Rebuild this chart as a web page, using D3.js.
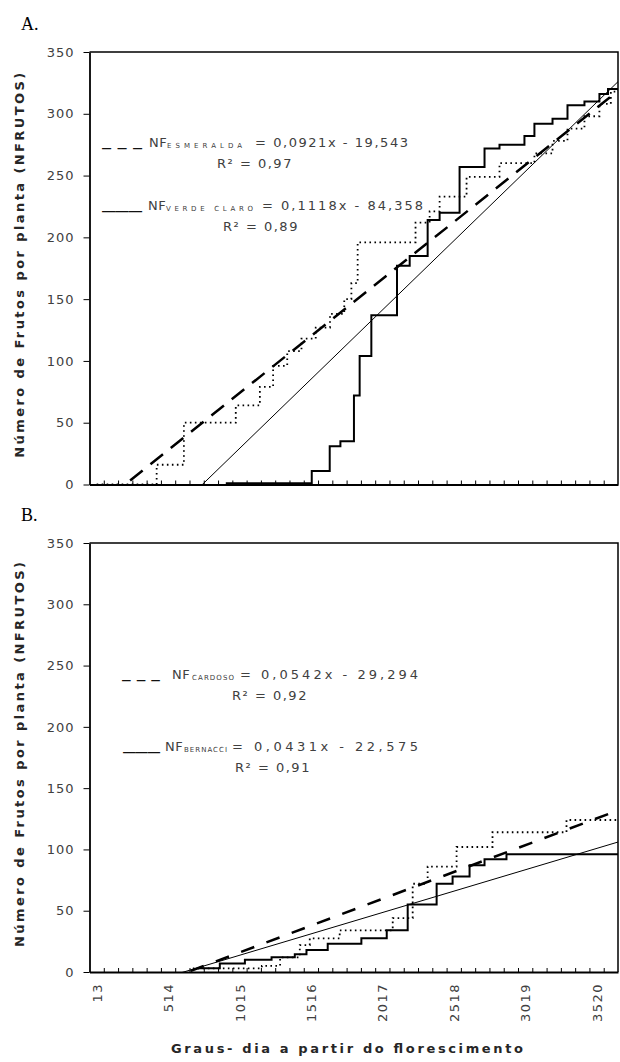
<!DOCTYPE html>
<html>
<head>
<meta charset="utf-8">
<script src="https://cdnjs.cloudflare.com/ajax/libs/d3/7.8.5/d3.min.js"></script>
<style>
body { margin: 0; background: #fff; }
svg text { font-family: "DejaVu Sans", Verdana, sans-serif; }
</style>
</head>
<body>
<svg id="chart" width="620" height="1062"></svg>
<script>
// eixo x: categorias de graus-dia (passo ~100,2), rotulo a cada 5 categorias
const tickLabels = [13, 514, 1015, 1516, 2017, 2518, 3019, 3520];
const catStep = 100.2;
const nCat = 37;
const yTicks = [0, 50, 100, 150, 200, 250, 300, 350];

// A. observados (GD inicio do degrau, n. frutos)
const esmeraldaGD = [13, 434, 625, 989, 1158, 1251, 1350, 1450, 1550, 1650, 1750, 1800, 1844, 2250, 2349, 2419, 2608, 2839, 3084, 3211, 3316, 3435, 3540, 3620, 3670];
const esmeraldaNF = [0, 16, 50, 64, 79, 96, 108, 118, 127, 138, 150, 163, 196, 212, 221, 233, 249, 260, 268, 278, 288, 298, 308, 318, 318];
const verdeGD = [919, 1522, 1648, 1723, 1818, 1858, 1940, 2120, 2209, 2335, 2419, 2559, 2734, 2839, 3014, 3084, 3211, 3316, 3435, 3540, 3600, 3670];
const verdeNF = [1, 11, 31, 35, 72, 104, 137, 177, 185, 214, 220, 257, 272, 275, 282, 292, 296, 307, 310, 316, 320, 320];

// B. observados
const cardosoGD = [688, 1172, 1300, 1438, 1508, 1718, 2090, 2230, 2335, 2538, 2790, 3309, 3670];
const cardosoNF = [3, 5, 12, 22, 27.5, 34, 44, 72, 86, 102, 114, 124, 124];
const bernacciGD = [723, 877, 1053, 1240, 1403, 1485, 1634, 1870, 2048, 2195, 2398, 2510, 2629, 2734, 2888, 3670];
const bernacciNF = [3, 7, 10, 12, 14.5, 18, 23, 27.5, 34, 55, 72, 78, 87, 92, 96, 96];

// retas de tendencia (inclinacao, intercepto) como aparecem no grafico
const trendA = [[0.0921, -19.543], [0.1118, -84.358]];
const trendB = [[0.0437, -28.5], [0.0348, -21.7]];

// textos das legendas
const legendSubA = ["ESMERALDA", "VERDE CLARO"];
const legendEqA = ["= 0,0921x - 19,543", "= 0,1118x - 84,358"];
const legendR2A = ["R² = 0,97", "R² = 0,89"];
const legendSubB = ["CARDOSO", "BERNACCI"];
const legendEqB = ["= 0,0542x - 29,294", "= 0,0431x - 22,575"];
const legendR2B = ["R² = 0,92", "R² = 0,91"];
const legendSym = ["_ _ _", "___"];

const svg = d3.select("#chart");
const left = 89.5, right = 618;
const x = d3.scaleLinear()
    .domain([tickLabels[0] - catStep / 2, tickLabels[0] + (nCat - 0.5) * catStep])
    .range([left, right]);
const bounds = d3.range(1, nCat).map(i => x.domain()[0] + i * catStep);

function drawPanel(cfg) {
    const y = d3.scaleLinear().domain([0, 350]).range([cfg.bottom, cfg.top]);
    const g = svg.append("g");

    svg.append("clipPath").attr("id", "clip" + cfg.id)
        .append("rect")
        .attr("x", left).attr("y", cfg.top - 2)
        .attr("width", right - left).attr("height", cfg.bottom - cfg.top + 2);

    // letra do painel
    g.append("text").attr("x", 21).attr("y", cfg.top - 22)
        .style("font-family", "'Liberation Serif', serif")
        .style("font-size", "18px").attr("fill", "#000")
        .text(cfg.letter);

    // moldura (topo e direita)
    g.append("path")
        .attr("d", `M${left},${cfg.top}H${right}V${cfg.bottom}`)
        .attr("fill", "none").attr("stroke", "#000").attr("stroke-width", 1.5);

    // eixo y
    const ya = g.append("g").attr("transform", `translate(${left},0)`)
        .call(d3.axisLeft(y).tickValues(yTicks).tickSize(6).tickPadding(9).tickSizeOuter(0));
    ya.select(".domain").attr("stroke-width", 1.8);
    ya.selectAll("text").attr("fill", "#404040").style("font-size", "13px").style("letter-spacing", "1px");

    // eixo x (marcas internas entre categorias)
    const xa = g.append("g").attr("transform", `translate(0,${cfg.bottom})`)
        .call(d3.axisTop(x).tickValues(bounds).tickSize(4).tickFormat("").tickSizeOuter(0));
    xa.select(".domain").attr("stroke-width", 2);

    // titulo y
    g.append("text")
        .attr("transform", `translate(19,${(cfg.top + cfg.bottom) / 2 - 3}) rotate(-90)`)
        .attr("text-anchor", "middle").attr("dy", "0.35em")
        .attr("textLength", 385).attr("lengthAdjust", "spacing")
        .style("font-size", "13px").style("font-weight", "bold").attr("fill", "#262626")
        .text("Número de Frutos por planta (NFRUTOS)");

    const plot = g.append("g").attr("clip-path", `url(#clip${cfg.id})`);
    const dom = x.domain();

    // tendencias
    cfg.trend.forEach((t, i) => {
        const pts = dom.map(d => [d, t[0] * d + t[1]]);
        plot.append("path")
            .attr("d", d3.line().x(d => x(d[0])).y(d => y(d[1]))(pts))
            .attr("fill", "none").attr("stroke", "#000")
            .attr("stroke-width", i === 0 ? 2.5 : 1)
            .attr("stroke-dasharray", i === 0 ? cfg.dash : null);
    });

    // observados em degraus
    const step = d3.line().x(d => x(d[0])).y(d => y(d[1])).curve(d3.curveStepAfter);
    plot.append("path")
        .attr("d", step(d3.zip(cfg.dotGD, cfg.dotNF)))
        .attr("fill", "none").attr("stroke", "#000")
        .attr("stroke-width", 1.8).attr("stroke-dasharray", "1.6,3.4");
    plot.append("path")
        .attr("d", step(d3.zip(cfg.solGD, cfg.solNF)))
        .attr("fill", "none").attr("stroke", "#000").attr("stroke-width", 2);

    // legendas (equacoes)
    cfg.leg.forEach((L, i) => {
        const lg = g.append("g").attr("fill", "#404040");
        lg.append("text").attr("x", L.symX).attr("y", L.base - 1)
            .attr("textLength", L.symW).attr("lengthAdjust", "spacingAndGlyphs")
            .style("font-size", "13px").style("font-weight", "bold").attr("fill", "#111").text(legendSym[i]);
        lg.append("text").attr("x", L.nfX).attr("y", L.base)
            .style("font-size", "13px").style("letter-spacing", "0.5px").text("NF");
        lg.append("text").attr("x", L.subX).attr("y", L.base + 1)
            .attr("textLength", L.subW).attr("lengthAdjust", "spacing")
            .style("font-size", "7px").text(cfg.sub[i]);
        lg.append("text").attr("x", L.eqX).attr("y", L.base)
            .attr("textLength", L.eqW).attr("lengthAdjust", "spacing")
            .style("font-size", "13px").text(cfg.eq[i]);
        lg.append("text").attr("x", L.r2X).attr("y", L.r2Base)
            .attr("text-anchor", "middle")
            .style("font-size", "13px").style("letter-spacing", "1.5px").text(cfg.r2[i]);
    });
}

drawPanel({
    id: "A", letter: "A.", top: 52, bottom: 484.5,
    trend: trendA, dash: "16,10",
    dotGD: esmeraldaGD, dotNF: esmeraldaNF, solGD: verdeGD, solNF: verdeNF,
    sub: legendSubA, eq: legendEqA, r2: legendR2A,
    leg: [
        { base: 147, symX: 102, symW: 40, nfX: 149, subX: 167, subW: 75, eqX: 255, eqW: 153, r2X: 255, r2Base: 168 },
        { base: 210, symX: 102, symW: 40, nfX: 148, subX: 166, subW: 87, eqX: 262, eqW: 161, r2X: 261, r2Base: 231 }
    ]
});

drawPanel({
    id: "B", letter: "B.", top: 543, bottom: 972,
    trend: trendB, dash: "14,13",
    dotGD: cardosoGD, dotNF: cardosoNF, solGD: bernacciGD, solNF: bernacciNF,
    sub: legendSubB, eq: legendEqB, r2: legendR2B,
    leg: [
        { base: 679, symX: 122, symW: 38, nfX: 172, subX: 192, subW: 42, eqX: 240, eqW: 178, r2X: 270, r2Base: 700 },
        { base: 751, symX: 123, symW: 37, nfX: 165, subX: 184, subW: 43, eqX: 232, eqW: 186, r2X: 273, r2Base: 772 }
    ]
});

// rotulos do eixo x (somente no painel B)
const xl = svg.append("g").attr("transform", "translate(0,972)")
    .call(d3.axisBottom(x).tickValues(tickLabels).tickSize(0).tickFormat(d3.format("d")));
xl.select(".domain").remove();
xl.selectAll("text")
    .attr("transform", "rotate(-90)")
    .attr("text-anchor", "end")
    .attr("x", -11).attr("y", 0).attr("dy", "0.35em")
    .attr("fill", "#404040")
    .style("font-size", "13px").style("letter-spacing", "1.5px");

svg.append("text")
    .attr("x", 347).attr("y", 1053).attr("text-anchor", "middle")
    .attr("textLength", 352).attr("lengthAdjust", "spacing")
    .style("font-size", "13px").style("font-weight", "bold").attr("fill", "#262626")
    .text("Graus- dia a partir do florescimento");
</script>
</body>
</html>
